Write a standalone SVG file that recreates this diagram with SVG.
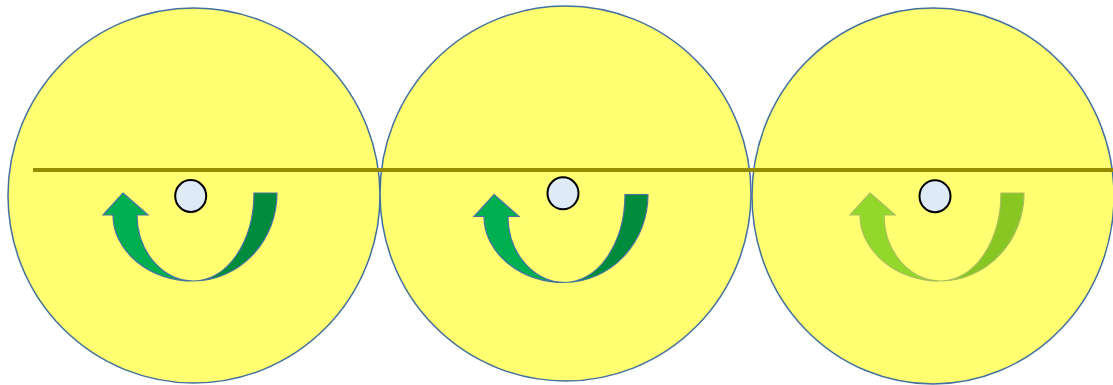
<svg xmlns="http://www.w3.org/2000/svg" width="1113" height="385" viewBox="0 0 1113 385">
<style>
.wheel{fill:#FFFF71;stroke:#41719C;stroke-width:1.5}
.hub{fill:#DEEAF6;stroke:#000;stroke-width:2}
.al{fill:#00B050;stroke:#4A72A0;stroke-width:1.2}
.ad{fill:#008C3C;stroke:#4A72A0;stroke-width:1.2}
.bl{fill:#92D82A;stroke:#A8BE5A;stroke-width:1.2}
.bd{fill:#88C623;stroke:#A8BE5A;stroke-width:1.2}
</style>
<g id="wheel1">
<ellipse class="wheel" cx="194" cy="195.5" rx="186" ry="187.5"/>
</g>
<g id="wheel2">
<ellipse class="wheel" cx="565.5" cy="193.5" rx="185.5" ry="187.5"/>
</g>
<g id="wheel3">
<ellipse class="wheel" cx="933" cy="196" rx="181" ry="188"/>
</g>
<g id="axis">
<line x1="33" y1="170" x2="1113" y2="170" stroke="#958B00" stroke-width="4"/>
</g>
<g id="arrow1">
<path class="al" d="M123,193 L148,215 L137,215 A57 66 0 0 0 194,281 A81 66 0 0 1 113,215 L103,215 Z"/>
<path class="ad" d="M254,193 L277,193 A84 88 0 0 1 194,281 A60 88 0 0 0 254,193 Z"/>
</g>
<g id="arrow2" transform="translate(371,1.5)">
<path class="al" d="M123,193 L148,215 L137,215 A57 66 0 0 0 194,281 A81 66 0 0 1 113,215 L103,215 Z"/>
<path class="ad" d="M254,193 L277,193 A84 88 0 0 1 194,281 A60 88 0 0 0 254,193 Z"/>
</g>
<g id="arrow3" transform="translate(747,0)">
<path class="bl" d="M123,193 L148,215 L137,215 A57 66 0 0 0 194,281 A81 66 0 0 1 113,215 L103,215 Z"/>
<path class="bd" d="M254,193 L277,193 A84 88 0 0 1 194,281 A60 88 0 0 0 254,193 Z"/>
</g>
<g id="hub1"><ellipse class="hub" cx="190.7" cy="196" rx="15.5" ry="16"/></g>
<g id="hub2"><ellipse class="hub" cx="563" cy="193.3" rx="15.5" ry="16"/></g>
<g id="hub3"><ellipse class="hub" cx="935" cy="196.2" rx="15.5" ry="16"/></g>
</svg>
